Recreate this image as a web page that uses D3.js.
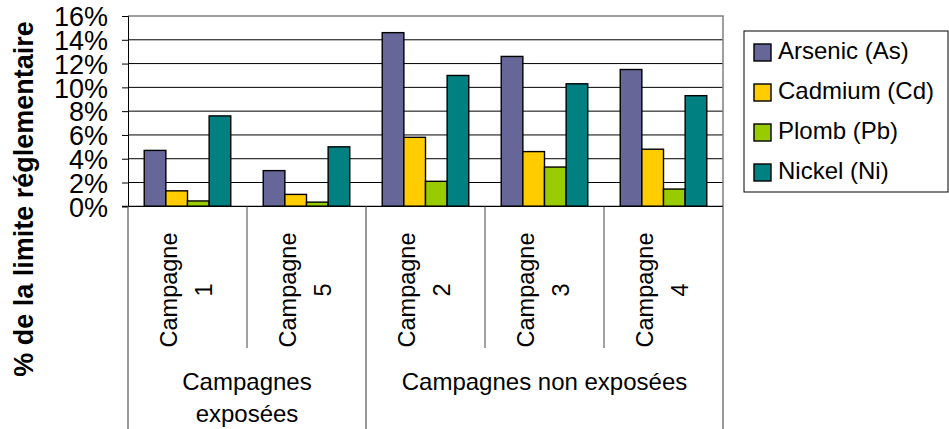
<!DOCTYPE html>
<html><head><meta charset="utf-8">
<script src="https://cdn.jsdelivr.net/npm/d3@7/dist/d3.min.js"></script>
<style>body{margin:0;background:#fff}svg{display:block}text{font-family:"Liberation Sans",Arial,sans-serif;fill:#000}</style>
</head><body><svg id="c" width="949" height="429"></svg>
<script>
const categories = ["1","5","2","3","4"];
const groups = [{label:["Campagnes","exposées"], n:2},{label:["Campagnes non exposées"], n:3}];
const seriesNames = ["Arsenic (As)","Cadmium (Cd)","Plomb (Pb)","Nickel (Ni)"];
const arsenic = [4.7, 3.0, 14.6, 12.6, 11.5];
const cadmium = [1.3, 1.0, 5.8, 4.6, 4.8];
const plomb = [0.45, 0.35, 2.1, 3.3, 1.45];
const nickel = [7.6, 5.0, 11.0, 10.3, 9.3];
const colors = ["#666699","#FFCC00","#99CC00","#008080"];
const yTicks = [0,2,4,6,8,10,12,14,16];
const yTitle = "% de la limite réglementaire";

const series = [arsenic, cadmium, plomb, nickel];
const svg = d3.select("#c");
const L=128, R=723, T=16, B=206.3;
const y = d3.scaleLinear().domain([0,16]).range([B,T]);
const x0 = d3.scaleBand().domain(categories).range([L,R]).padding(0);
const x1 = d3.scaleBand().domain(d3.range(4)).range([0,x0.bandwidth()]).paddingInner(0).paddingOuter(0.75);

// gridlines
svg.append("g").selectAll("line").data(yTicks.filter(d=>d>0&&d<16)).join("line")
  .attr("x1",L).attr("x2",R).attr("y1",d=>y(d)).attr("y2",d=>y(d)).attr("stroke","#000").attr("stroke-width",1);
// plot border top/right gray
svg.append("path").attr("d",`M${L},${y(16)}H${R}V${B}`).attr("fill","none").attr("stroke","#808080").attr("stroke-width",1.5);

// y axis
const yAxis = d3.axisLeft(y).tickValues(yTicks).tickSize(6).tickFormat(d=>d+"%");
const ya = svg.append("g").attr("transform",`translate(${L},0)`).call(yAxis);
ya.select(".domain").attr("stroke","#000");
ya.selectAll(".tick line").attr("stroke","#000");
ya.selectAll(".tick text").attr("x",-20).attr("dy","0.36em").style("font-size","27px").style("font-family",'"Liberation Sans",Arial,sans-serif').attr("fill","#000");

// bars
svg.append("g").selectAll("g").data(categories).join("g")
  .attr("transform",d=>`translate(${x0(d)},0)`)
  .selectAll("rect").data((d,i)=>series.map((s,k)=>({k,v:s[i]}))).join("rect")
  .attr("x",d=>x1(d.k)).attr("width",x1.bandwidth())
  .attr("y",d=>y(d.v)).attr("height",d=>B-y(d.v))
  .attr("fill",d=>colors[d.k]).attr("stroke","#000").attr("stroke-width",1.4);

// x axis line
svg.append("line").attr("x1",L-6).attr("x2",R).attr("y1",B).attr("y2",B).attr("stroke","#000").attr("stroke-width",1.2);

// category dividers
let idx=0; const groupBounds=[L];
groups.forEach(g=>{ idx+=g.n; groupBounds.push(idx<categories.length?x0(categories[idx]):R); });
categories.forEach((c,i)=>{ if(i===0) return; const xx=x0(c);
  const isGroup = groupBounds.includes(xx);
  if(!isGroup) svg.append("line").attr("x1",xx).attr("x2",xx).attr("y1",B).attr("y2",348).attr("stroke","#444").attr("stroke-width",1);
});
groupBounds.forEach(xx=>svg.append("line").attr("x1",xx).attr("x2",xx).attr("y1",B).attr("y2",429).attr("stroke","#555").attr("stroke-width",1.2));

// category labels
categories.forEach(c=>{
  const cx = x0(c)+x0.bandwidth()/2;
  const g = svg.append("g").attr("transform",`translate(${cx},290) rotate(-90)`);
  g.append("text").attr("text-anchor","middle").attr("y",-11).style("font-size","23.5px").text("Campagne");
  g.append("text").attr("text-anchor","middle").attr("y",24).style("font-size","23.5px").text(c);
});
// group labels
groups.forEach((g,i)=>{
  const cx=(groupBounds[i]+groupBounds[i+1])/2;
  g.label.forEach((t,j)=>svg.append("text").attr("x",cx).attr("y",390+32*j).attr("text-anchor","middle").style("font-size","24px").text(t));
});

// y title
svg.append("text").attr("transform","translate(33,199) rotate(-90)").attr("text-anchor","middle")
  .style("font-size","27px").style("font-weight","bold").text(yTitle);

// legend
const lg = svg.append("g");
lg.append("rect").attr("x",744).attr("y",31).attr("width",204).attr("height",161).attr("fill","#fff").attr("stroke","#000").attr("stroke-width",1);
seriesNames.forEach((n,i)=>{
  lg.append("rect").attr("x",754).attr("y",44+40*i).attr("width",17).attr("height",17).attr("fill",colors[i]).attr("stroke","#000").attr("stroke-width",1.4);
  lg.append("text").attr("x",778).attr("y",58.5+40*i).style("font-size","24px").text(n);
});
</script></body></html>
